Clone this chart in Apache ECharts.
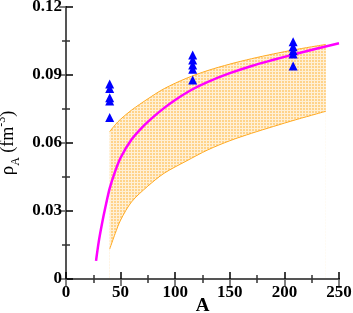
<!DOCTYPE html>
<html>
<head>
<meta charset="utf-8">
<script src="https://cdn.jsdelivr.net/npm/echarts@6/dist/echarts.min.js"></script>
<style>html,body{margin:0;padding:0;background:#fff}#c{width:353px;height:313px}</style>
</head>
<body>
<div id="c"></div>
<script>
// Magenta curve
const curveA = [27.5, 30, 33, 36, 40, 45, 50, 60, 70, 80, 90, 100, 115, 130, 150, 170, 190, 210, 230, 250];
const curveRho = [0.0080, 0.0165, 0.0245, 0.0315, 0.0400, 0.0475, 0.0535, 0.0615, 0.0670, 0.0715, 0.0755, 0.0790, 0.0835, 0.0870, 0.0908, 0.0940, 0.0967, 0.0993, 0.1017, 0.1040];
// Band
const bandA = [40, 45, 50, 60, 75, 90, 110, 130, 150, 170, 190, 210, 238];
const bandUp = [0.0650, 0.0680, 0.0705, 0.0745, 0.0795, 0.0840, 0.0885, 0.0920, 0.0948, 0.0972, 0.0993, 0.1012, 0.1035];
const bandLo = [0.0132, 0.0200, 0.0260, 0.0340, 0.0410, 0.0467, 0.0520, 0.0570, 0.0610, 0.0643, 0.0673, 0.0702, 0.0740];
// Triangles
const triA = [40, 40, 40, 40, 40, 116, 116, 116, 116, 116, 208, 208, 208, 208, 208];
const triRho = [0.0860, 0.0840, 0.0800, 0.0785, 0.0713, 0.0988, 0.0966, 0.0944, 0.0925, 0.0878, 0.1047, 0.1025, 0.1007, 0.0993, 0.0940];
const xTicks = [0, 50, 100, 150, 200, 250];
const yTicks = [0, 0.03, 0.06, 0.09, 0.12];

const pc = document.createElement('canvas');
pc.width = 3; pc.height = 3;
const g = pc.getContext('2d');
g.fillStyle = '#FFF0D6'; g.fillRect(0, 0, 3, 3);
g.fillStyle = '#FFD38A'; g.fillRect(0, 0, 2, 2);

const zip = (a, b) => a.map((v, i) => [v, b[i]]);
const chart = echarts.init(document.getElementById('c'));
const tickFont = {fontFamily: 'Liberation Serif', fontWeight: 'bold', fontSize: 17, color: '#000'};
const baseX = {min: 0, max: 250, interval: 50, splitLine: {show: false}, z: 10,
  axisTick: {inside: true, length: 7, lineStyle: {width: 1.5}},
  minorTick: {show: true, splitNumber: 2, length: 4, lineStyle: {color: '#333', width: 1.5}},
};
const baseY = {min: 0, max: 0.12, interval: 0.03, splitLine: {show: false}, z: 10,
  axisTick: {inside: true, length: 7, lineStyle: {width: 1.5}},
  minorTick: {show: true, splitNumber: 2, length: 4, lineStyle: {color: '#333', width: 1.5}},
};
chart.setOption({
  animation: false,
  grid: {left: 66, right: 14, top: 7, bottom: 34, containLabel: false, outerBoundsMode: 'none'},
  xAxis: [
    Object.assign({}, baseX, {type: 'value', position: 'bottom',
      axisLine: {lineStyle: {color: '#000', width: 2}},
      axisLabel: Object.assign({margin: 5, formatter: v => xTicks.includes(v) ? String(v) : ''}, tickFont),
      name: 'A', nameLocation: 'middle', nameGap: 18, nameMoveOverlap: false,
      nameTextStyle: {fontFamily: 'Liberation Serif', fontWeight: 'bold', fontSize: 19, color: '#000'}}),
    Object.assign({}, baseX, {type: 'value', position: 'top',
      axisLine: {lineStyle: {color: '#555', width: 2}}, axisLabel: {show: false}})
  ],
  yAxis: [
    Object.assign({}, baseY, {type: 'value', position: 'left',
      axisLine: {lineStyle: {color: '#000', width: 2}},
      axisLabel: Object.assign({margin: 4, formatter: v => {
        const t = yTicks.find(k => Math.abs(k - v) < 1e-9);
        return t === undefined ? '' : (t === 0 ? '0' : t.toFixed(2));
      }}, tickFont),
      name: '{r|ρ}{s|A}{n| (fm}{p|-3}{n|)}', nameLocation: 'middle', nameGap: 38,
      nameTextStyle: {fontFamily: 'Liberation Serif', color: '#000',
        rich: {
          r: {fontFamily: 'Liberation Serif', fontSize: 19, lineHeight: 26, verticalAlign: 'middle', color: '#000'},
          s: {fontFamily: 'Liberation Serif', fontSize: 12, lineHeight: 26, verticalAlign: 'bottom', color: '#000'},
          n: {fontFamily: 'Liberation Serif', fontSize: 18, lineHeight: 26, verticalAlign: 'middle', color: '#000'},
          p: {fontFamily: 'Liberation Serif', fontSize: 12, lineHeight: 26, verticalAlign: 'top', color: '#000'}
        }}}),
    Object.assign({}, baseY, {type: 'value', position: 'right',
      axisLine: {lineStyle: {color: '#555', width: 2}}, axisLabel: {show: false}})
  ],
  series: [
    {type: 'line', data: zip(bandA, bandUp), smooth: 0.3, symbol: 'none', z: 1,
      lineStyle: {color: '#FFAA22', width: 1},
      areaStyle: {color: {image: pc, repeat: 'repeat'}, opacity: 1}},
    {type: 'line', data: zip(bandA, bandLo), smooth: 0.3, symbol: 'none', z: 2,
      lineStyle: {color: '#FFAA22', width: 1},
      areaStyle: {color: '#FFFFFF', opacity: 1}},
    {type: 'line', data: zip(curveA, curveRho), smooth: 0.3, symbol: 'none', z: 3,
      lineStyle: {color: '#FF00FF', width: 2.5}},
    {type: 'scatter', data: zip(triA, triRho), symbol: 'triangle', symbolSize: [9, 9], z: 4,
      itemStyle: {color: '#0000FF', opacity: 1}}
  ]
});
</script>
</body>
</html>
